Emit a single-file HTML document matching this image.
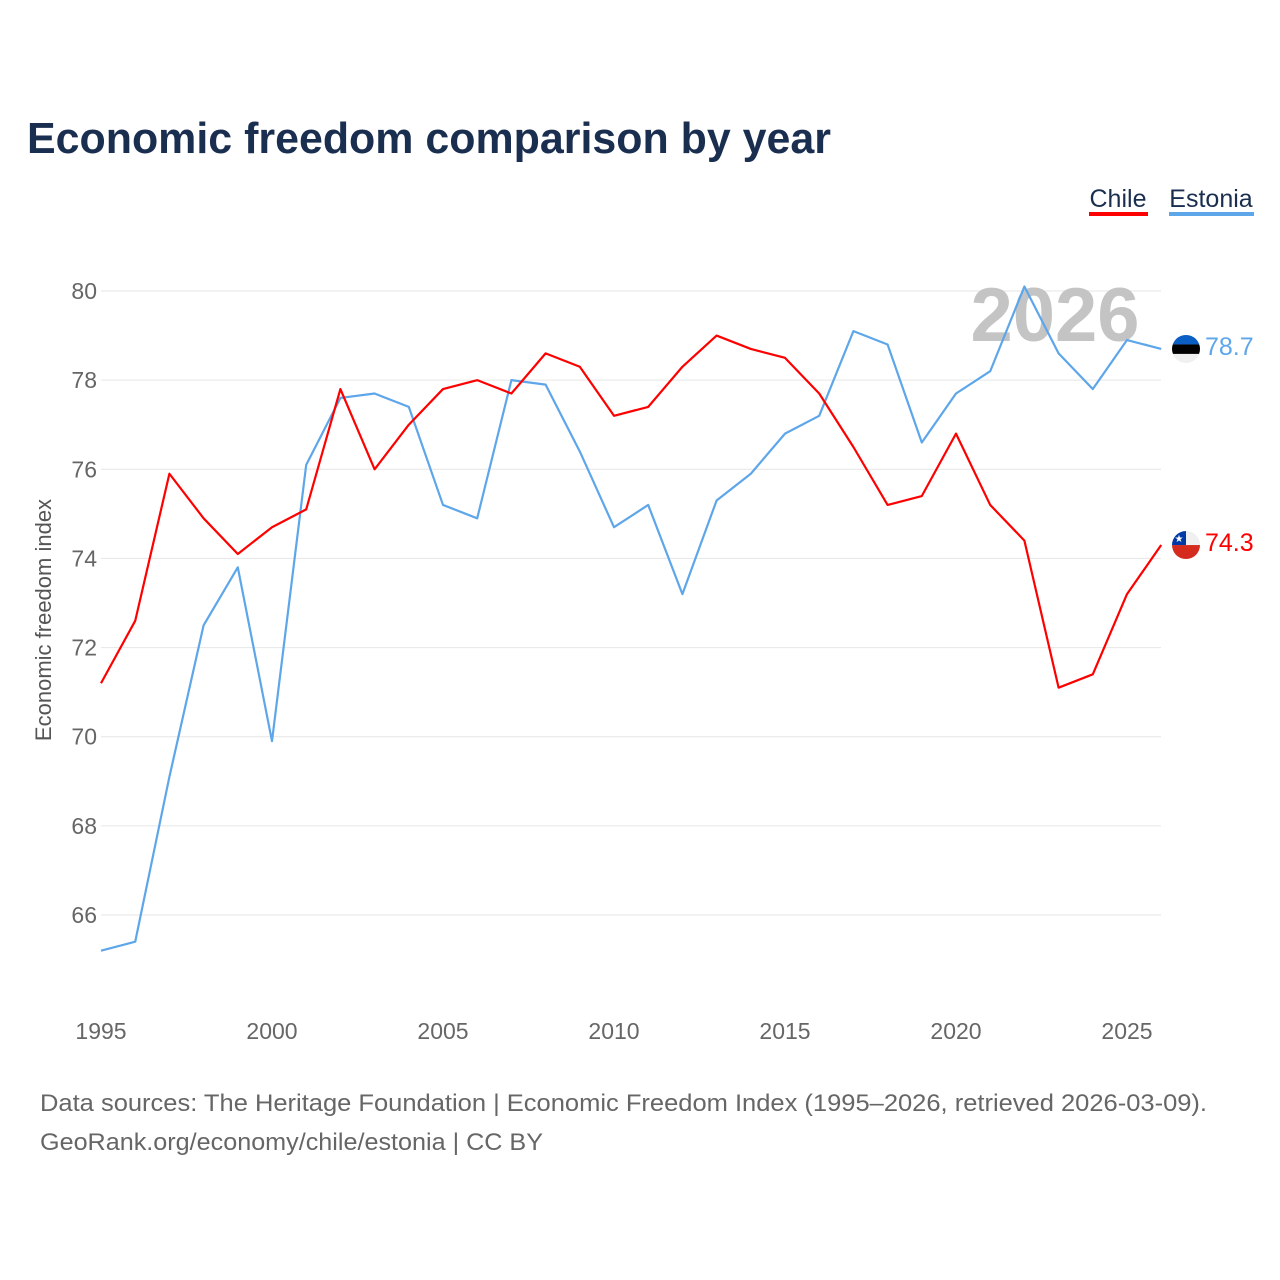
<!DOCTYPE html>
<html><head><meta charset="utf-8"><style>
html,body{margin:0;padding:0;background:#fff;width:1280px;height:1280px;overflow:hidden;font-family:"Liberation Sans",sans-serif}
</style></head><body>
<svg id="chart" width="1280" height="1280" viewBox="0 0 1280 1280">
<text x="27" y="153" font-size="44" font-weight="bold" fill="#1a2e4f" textLength="804" lengthAdjust="spacingAndGlyphs">Economic freedom comparison by year</text>
<g>
<text x="1118" y="207" font-size="25" fill="#1a2e4f" text-anchor="middle">Chile</text>
<rect x="1089" y="212" width="59" height="4" fill="#ff0000"/>
<text x="1211" y="207" font-size="25" fill="#1a2e4f" text-anchor="middle">Estonia</text>
<rect x="1169" y="212" width="85" height="4" fill="#5ea6ea"/>
</g>
<g id="grid"></g>
<text x="1055" y="341" font-size="76" font-weight="bold" fill="#c4c4c4" text-anchor="middle">2026</text>
<g id="series"></g>
<text transform="translate(51,620) rotate(-90)" font-size="22" fill="#555" text-anchor="middle">Economic freedom index</text>
<text x="40" y="1111" font-size="24" fill="#666" textLength="1167" lengthAdjust="spacingAndGlyphs">Data sources: The Heritage Foundation | Economic Freedom Index (1995–2026, retrieved 2026-03-09).</text>
<text x="40" y="1150" font-size="24" fill="#666" textLength="503" lengthAdjust="spacingAndGlyphs">GeoRank.org/economy/chile/estonia | CC BY</text>
</svg>
<script>
const years=[1995,1996,1997,1998,1999,2000,2001,2002,2003,2004,2005,2006,2007,2008,2009,2010,2011,2012,2013,2014,2015,2016,2017,2018,2019,2020,2021,2022,2023,2024,2025,2026];
const chile=[71.2,72.6,75.9,74.9,74.1,74.7,75.1,77.8,76.0,77.0,77.8,78.0,77.7,78.6,78.3,77.2,77.4,78.3,79.0,78.7,78.5,77.7,76.5,75.2,75.4,76.8,75.2,74.4,71.1,71.4,73.2,74.3];
const estonia=[65.2,65.4,69.1,72.5,73.8,69.9,76.1,77.6,77.7,77.4,75.2,74.9,78.0,77.9,76.4,74.7,75.2,73.2,75.3,75.9,76.8,77.2,79.1,78.8,76.6,77.7,78.2,80.1,78.6,77.8,78.9,78.7];
const yTicks=[66,68,70,72,74,76,78,80];
const xTicks=[1995,2000,2005,2010,2015,2020,2025];
const NS="http://www.w3.org/2000/svg";
const xs=y=>101+(y-1995)*(1127-101)/30;
const ys=v=>291+(80-v)*(915-291)/14;
function mk(t,a,p){const e=document.createElementNS(NS,t);for(const k in a)e.setAttribute(k,a[k]);p.appendChild(e);return e;}
const grid=document.getElementById('grid');
yTicks.forEach(t=>{
 const l=mk('line',{x1:101,x2:1161,y1:ys(t),y2:ys(t),stroke:'#e6e6e6','stroke-width':1},grid);
 
 
 const tx=mk('text',{x:97,y:ys(t)+8,'font-size':23,fill:'#666','text-anchor':'end'},grid);
 tx.textContent=t;
 
 
});
xTicks.forEach(t=>{
 const tx=mk('text',{x:xs(t),y:1039,'font-size':23,fill:'#666','text-anchor':'middle'},grid);
 tx.textContent=t;
 
 
});
const sg=document.getElementById('series');
function line(vals,col,name){
 const p=mk('polyline',{points:vals.map((v,i)=>xs(years[i])+','+ys(v)).join(' '),fill:'none',stroke:col,'stroke-width':2.2,'stroke-linejoin':'round'},sg);
 
 
 const last=vals[vals.length-1],cy=ys(last);
 const c=mk('circle',{cx:1186,cy:cy,r:14,fill:'#eee'},sg);
 
 
 const t=mk('text',{x:1205,y:cy+6,'font-size':25,fill:col},sg);
 t.textContent=last.toFixed(1);
 
 
 return cy;
}
const ce=line(estonia,'#5ea6ea','estonia');
const cc=line(chile,'#ff0000','chile');
const defs=mk('defs',{},sg);
const cp1=mk('clipPath',{id:'fe'},defs);mk('circle',{cx:1186,cy:ce,r:14},cp1);
const cp2=mk('clipPath',{id:'fc'},defs);mk('circle',{cx:1186,cy:cc,r:14},cp2);
const ge=mk('g',{'clip-path':'url(#fe)'},sg);
mk('rect',{x:1172,y:ce-14,width:28,height:9.5,fill:'#0a5ec4'},ge);
mk('rect',{x:1172,y:ce-4.5,width:28,height:9.5,fill:'#000'},ge);
mk('rect',{x:1172,y:ce+5,width:28,height:9,fill:'#f0f0f0'},ge);
const gc=mk('g',{'clip-path':'url(#fc)'},sg);
mk('rect',{x:1172,y:cc-14,width:28,height:14,fill:'#f0f0f0'},gc);
mk('rect',{x:1172,y:cc,width:28,height:14,fill:'#d52b1e'},gc);
mk('rect',{x:1172,y:cc-14,width:14,height:14,fill:'#0039a6'},gc);
const st=mk('text',{x:1179,y:cc-3,'font-size':10,fill:'#fff','text-anchor':'middle'},gc);st.textContent='★';
</script>
</body></html>
